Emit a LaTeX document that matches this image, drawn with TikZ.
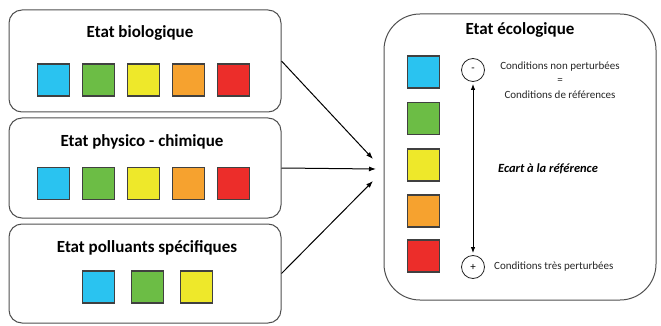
\documentclass[tikz,border=0pt]{standalone}
\usepackage{fontspec}
\setmainfont{Carlito}
\usetikzlibrary{arrows.meta}
\definecolor{cblue}{HTML}{2AC3F0}
\definecolor{cgreen}{HTML}{6CBD45}
\definecolor{cyellow}{HTML}{EEE82A}
\definecolor{corange}{HTML}{F6A22F}
\definecolor{cred}{HTML}{EC2D2A}
\definecolor{boxline}{HTML}{505050}
\tikzset{
  panel/.style={draw=boxline, line width=1pt, rounded corners=13pt, fill=white, inner sep=0pt},
  bigpanel/.style={draw=boxline, line width=1pt, rounded corners=36pt, fill=white, inner sep=0pt},
  title/.style={font=\fontsize{17}{20}\selectfont\bfseries, inner sep=0pt},
  sq/.style={draw=black!75, line width=1.8pt, minimum size=32pt, inner sep=0pt},
  small/.style={font=\fontsize{11}{13}\selectfont, inner sep=0pt, text=black!85},
  circ/.style={circle, draw=black!85, line width=0.8pt, minimum size=23pt, inner sep=0pt, font=\fontsize{11}{13}\selectfont},
  conn/.style={line width=1pt, -{Latex[length=7pt,width=5pt]}},
}
\begin{document}
\begin{tikzpicture}[x=1pt,y=1pt]
\useasboundingbox (0,0) rectangle (661,-326);
% left panels
\node[panel, minimum width=272pt, minimum height=102pt] (b1) at (145,-61) {};
\node[panel, minimum width=272pt, minimum height=100pt] (b2) at (145,-168) {};
\node[panel, minimum width=272pt, minimum height=99pt] (b3) at (145,-273.5) {};
\node[bigpanel, minimum width=272pt, minimum height=286pt] (br) at (520,-157) {};
% titles
\node[title] (t1) at (140,-33) {Etat biologique};
\node[title] (t2) at (142,-142) {Etat physico - chimique};
\node[title] (t3) at (147,-248) {Etat polluants spécifiques};
\node[title] (tr) at (520,-30) {Etat écologique};
% squares box 1
\node[sq, fill=cblue] (s11) at (53.5,-80) {};
\node[sq, fill=cgreen] (s12) at (98.5,-80) {};
\node[sq, fill=cyellow] (s13) at (143.5,-80) {};
\node[sq, fill=corange] (s14) at (188.5,-80) {};
\node[sq, fill=cred] (s15) at (233.5,-80) {};
% squares box 2
\node[sq, fill=cblue] (s21) at (53.5,-183.5) {};
\node[sq, fill=cgreen] (s22) at (98.5,-183.5) {};
\node[sq, fill=cyellow] (s23) at (143.5,-183.5) {};
\node[sq, fill=corange] (s24) at (188.5,-183.5) {};
\node[sq, fill=cred] (s25) at (233.5,-183.5) {};
% squares box 3
\node[sq, fill=cblue] (s31) at (98.5,-287) {};
\node[sq, fill=cgreen] (s32) at (147.5,-287) {};
\node[sq, fill=cyellow] (s33) at (196.5,-287) {};
% squares right
\node[sq, fill=cblue] (r1) at (423.5,-72) {};
\node[sq, fill=cgreen] (r2) at (423.5,-118.5) {};
\node[sq, fill=cyellow] (r3) at (423.5,-165) {};
\node[sq, fill=corange] (r4) at (423.5,-211) {};
\node[sq, fill=cred] (r5) at (423.5,-256) {};
% circles and scale
\node[circ] (cm) at (473,-70) {-};
\node[circ] (cp) at (473,-267) {+};
\draw[line width=1pt, {Latex[length=6pt,width=4.5pt]}-{Latex[length=6pt,width=4.5pt]}, shorten <=2pt, shorten >=2pt] (cm.south) -- (cp.north);
% texts
\node[small] (c1) at (560,-67) {Conditions non perturbées};
\node[small] (c2) at (560,-81) {=};
\node[small] (c3) at (560,-95) {Conditions de références};
\node[font=\fontsize{12.5}{15}\selectfont\bfseries\itshape, inner sep=0pt] (ec) at (548,-169) {Ecart à la référence};
\node[small, anchor=west] (c4) at (494,-267) {Conditions très perturbées};
% connectors
\coordinate (e1) at (373,-159);
\coordinate (e2) at (376,-169);
\coordinate (e3) at (373,-181);
\draw[conn] (b1.east) -- (e1);
\draw[conn] (b2.east) -- (e2);
\draw[conn] (b3.east) -- (e3);
\end{tikzpicture}
\end{document}
